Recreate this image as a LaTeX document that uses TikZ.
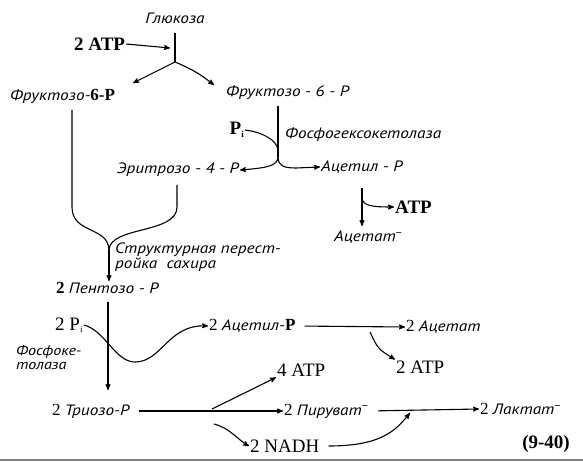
\documentclass[tikz,border=0pt]{standalone}
\usepackage{fontspec}
\setmainfont{Liberation Serif}
\newfontfamily\hand{PT Sans}[FakeStretch=1.15]
\usetikzlibrary{arrows}
\newcommand\cyr[1]{{\hand\itshape\fontsize{15}{17}\selectfont #1}}
\newcommand\sbi{\raisebox{-2.5pt}{\fontsize{9}{9}\selectfont i}}
\tikzset{
  every node/.style={inner sep=1pt},
  ru/.style={font=\hand\itshape\fontsize{15}{13}\selectfont},
  small/.style={font=\hand\itshape\fontsize{14}{14}\selectfont},
  num/.style={font=\fontsize{19}{21}\selectfont},
  bnum/.style={font=\bfseries\fontsize{19}{21}\selectfont},
  mix/.style={font=\fontsize{17}{19}\selectfont},
  path/.style={line width=1.1pt},
  flow/.style={path,-stealth'},
}

\begin{document}
\begin{tikzpicture}[x=1pt,y=-1pt]
\useasboundingbox (0,0) rectangle (583,462);
\node[ru] (glu) at (175,18) {Глюкоза};
\node[bnum,anchor=west] (atp1) at (73,44) {2 ATP};
\node[mix,anchor=west] (fruL) at (9,96) {\cyr{Фруктозо-}\textbf{6-P}};
\node[ru,anchor=west] (fruR) at (225,93) {Фруктозо - 6 - Р};
\node[bnum,anchor=east] (pi1) at (245,130) {P\sbi};
\node[ru,anchor=west] (fkl) at (284,135) {Фосфогексокетолаза};
\node[ru,anchor=east] (ery) at (240,170) {Эритрозо - 4 - Р};
\node[ru,anchor=west] (acP) at (320,167) {Ацетил - Р};
\node[bnum,anchor=west] (atp2) at (394,207) {ATP};
\node[ru,anchor=west] (acet) at (333,237) {Ацетат\textsuperscript{−}};
\node[ru,anchor=north west,align=left] (strl) at (114,242) {Структурная перест-\\ройка\ \ сахира};
\node[mix,anchor=west] (pent) at (55,288) {\textbf{2} \cyr{Пентозо - Р}};
\node[num,anchor=west] (pi2) at (54,325) {2 P\sbi};
\node[small,anchor=west,align=left] (fkt) at (15,358) {Фосфоке-\\толаза};
\node[mix,anchor=west] (acP2) at (208,326) {2 \cyr{Ацетил-}\textbf{P}};
\node[mix,anchor=west] (acet2) at (405,327) {2 \cyr{Ацетат}};
\node[num,anchor=west] (atp3) at (395,367) {2 ATP};
\node[num,anchor=west] (atp4) at (276,370) {4 ATP};
\node[mix,anchor=west] (tri) at (51,411) {2 \cyr{Триозо-Р}};
\node[mix,anchor=west] (pyr) at (283,411) {2 \cyr{Пируват\textsuperscript{−}}};
\node[mix,anchor=west] (lac) at (479,409) {2 \cyr{Лактат\textsuperscript{−}}};
\node[num,anchor=west] (nadh) at (249,446) {2 NADH};
\node[bnum,anchor=east] (eq) at (571,444) {(9-40)};

\coordinate (gtop) at (175,33);
\coordinate (j1) at (175,62);
\coordinate (atpin) at (170,48);
\coordinate (fLin) at (133,83);
\coordinate (fRin) at (214,85);
\coordinate (rtop) at (278,106);
\coordinate (rmid) at (278,150);
\coordinate (rj) at (278,157);
\coordinate (atop) at (362,188);
\coordinate (abr) at (362,198);
\coordinate (abot) at (362,226);
\coordinate (lvtop) at (72,110);
\coordinate (lvbend) at (72,207);
\coordinate (evtop) at (177,185);
\coordinate (evbend) at (177,207);
\coordinate (merge) at (109,250);
\coordinate (vtop) at (108,302);
\coordinate (vbot) at (108,390);
\coordinate (wmin) at (135,362);
\coordinate (b1) at (370,332);
\coordinate (b2) at (212,409);
\coordinate (b3) at (214,424);
\coordinate (b4) at (410,413);

\draw[flow] (atp1.east) -- (atpin);
\draw[path] (gtop) -- (j1);
\draw[flow] (j1) -- (fLin);
\draw[flow] (j1) to[bend left=8] (fRin);
\draw[path] (rtop) -- (rj);
\draw[path] (pi1.east) .. controls (262,132) and (277,140) .. (rmid);
\draw[flow] (rj) .. controls (278,166) and (266,168) .. (ery.east);
\draw[flow] (rj) .. controls (278,166) and (284,168) .. (296,168) -- (acP.west);
\draw[flow] (atop) -- (abot);
\draw[flow] (abr) .. controls (363,206) and (372,207) .. (atp2.west);
\draw[path] (lvtop) -- (lvbend) .. controls (72,234) and (108,226) .. (merge);
\draw[path] (evtop) -- (evbend) .. controls (177,234) and (110,226) .. (merge);
\draw[flow] (merge) -- (pent.north -| merge);
\draw[flow] (vtop) -- (vbot);
\draw[flow] (pi2.east) .. controls (105,330) and (115,362) .. (wmin) .. controls (162,362) and (168,324) .. (acP2.west);
\draw[flow,shorten <=8pt] (acP2.east) -- (acet2.west);
\draw[flow] (b1) .. controls (378,349) .. (atp3.north west);
\draw[flow,shorten <=9pt] (tri.east) -- (pyr.west);
\draw[flow] (b2) -- (atp4.south west);
\draw[flow] (b3) .. controls (230,428) and (238,440) .. (nadh.west);
\draw[flow,shorten <=9pt] (pyr.east) -- (lac.west);
\draw[flow,shorten <=8pt] (nadh.east) .. controls (382,446) and (396,430) .. (b4);
\draw[gray,line width=1.2pt] (0,460) -- (583,460);
\end{tikzpicture}
\end{document}
